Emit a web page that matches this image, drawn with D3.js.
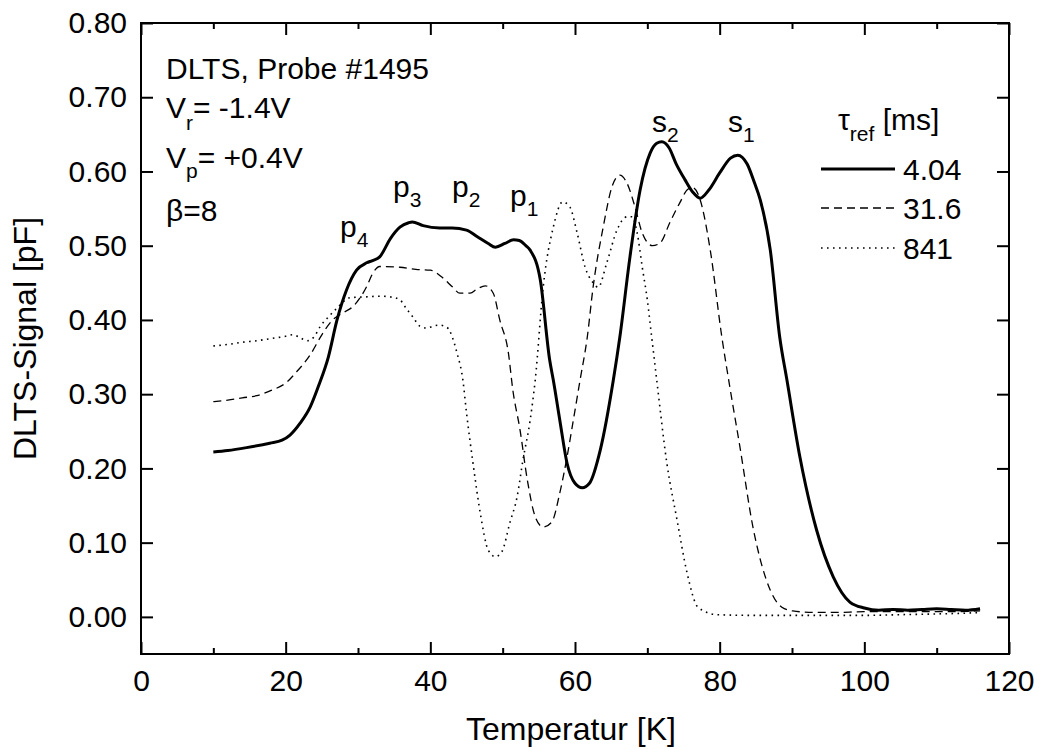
<!DOCTYPE html>
<html>
<head>
<meta charset="utf-8">
<script src="https://d3js.org/d3.v7.min.js"></script>
<style>
  body { margin: 0; background: #fff; }
  svg { font-family: "Liberation Sans", Arial, sans-serif; }
  .axis path { display: none; }
  .axis line { stroke: #000; stroke-width: 2; }
  .axis text { font-size: 30px; fill: #000; }
  .lbl { font-size: 30px; fill: #000; }
  .title { font-size: 32px; fill: #000; }
</style>
</head>
<body>
<script>
// temperature [K] / DLTS signal [pF] pairs
var tau404 = [[10,0.222],[12,0.224],[14.6,0.228],[17.8,0.234],[19.5,0.238],[20.6,0.245],[22,0.261],[23.4,0.283],[24.5,0.31],[25.9,0.35],[27.1,0.40],[28.4,0.44],[29.8,0.467],[31.2,0.477],[32,0.48],[33,0.485],[34.5,0.51],[35.8,0.525],[37,0.531],[37.5,0.532],[39,0.527],[41.3,0.524],[43,0.524],[45,0.521],[46.5,0.512],[48,0.503],[49,0.498],[50.3,0.503],[51.5,0.508],[52.3,0.507],[53.2,0.50],[53.8,0.494],[55.2,0.454],[56.5,0.346],[57,0.319],[57.9,0.265],[58.9,0.207],[60,0.18],[61,0.174],[62,0.18],[63.5,0.225],[65.3,0.319],[66.2,0.377],[67.6,0.485],[69,0.575],[70.4,0.625],[71.3,0.638],[72,0.640],[73,0.632],[74,0.61],[75.2,0.589],[76.3,0.572],[77.3,0.564],[78.5,0.575],[80,0.598],[81.5,0.618],[82.5,0.622],[83.8,0.61],[84.8,0.585],[85.6,0.562],[87,0.494],[88.3,0.377],[89.3,0.319],[91.1,0.215],[93.4,0.117],[95.7,0.054],[98,0.02],[100,0.012],[102,0.009],[104,0.010],[106,0.009],[108,0.010],[110,0.011],[112,0.010],[114,0.009],[116,0.011]];

var tau316 = [[10,0.29],[12,0.292],[14,0.295],[16,0.298],[18,0.305],[20,0.315],[21.5,0.33],[23.4,0.353],[25,0.38],[26.5,0.40],[28,0.41],[29.3,0.418],[30.3,0.43],[31.2,0.445],[32,0.462],[33,0.472],[35.8,0.471],[38,0.468],[40,0.467],[41.8,0.456],[43,0.445],[44.1,0.436],[45.5,0.436],[46.5,0.442],[47.6,0.446],[48.7,0.436],[49.6,0.40],[50.8,0.355],[51.4,0.306],[52.4,0.252],[53.4,0.185],[54.5,0.135],[55.6,0.121],[56.8,0.128],[57.9,0.167],[59,0.221],[59.7,0.261],[60.7,0.319],[61.7,0.377],[62.5,0.444],[63.9,0.525],[65.1,0.579],[66.2,0.595],[67.2,0.584],[68.3,0.552],[69.3,0.517],[70.7,0.50],[71.8,0.504],[73.1,0.531],[74.5,0.558],[75.6,0.576],[76.3,0.578],[77.3,0.562],[78.7,0.494],[80.3,0.377],[81.4,0.31],[82.8,0.229],[84.6,0.121],[87,0.036],[88.6,0.013],[90.1,0.008],[93,0.006],[96,0.006],[100,0.007],[104,0.007],[108,0.007],[112,0.007],[116,0.008]];

var tau841 = [[10,0.365],[12,0.367],[14,0.37],[16,0.372],[18,0.375],[20,0.378],[21,0.38],[22,0.376],[23,0.372],[24,0.378],[24.7,0.39],[26,0.405],[27,0.415],[28.9,0.43],[31,0.431],[33,0.432],[34.5,0.431],[35.8,0.427],[36.7,0.415],[37.6,0.404],[38.5,0.392],[39.5,0.389],[40.5,0.392],[41.3,0.393],[42.3,0.39],[43.7,0.355],[44.5,0.319],[45,0.275],[45.9,0.207],[46.9,0.14],[48,0.09],[49,0.081],[49.9,0.088],[51,0.127],[52,0.162],[52.8,0.211],[53.8,0.265],[54.5,0.319],[55.6,0.444],[57,0.525],[58.3,0.559],[59.3,0.552],[60.3,0.517],[61.4,0.471],[62.5,0.45],[63.2,0.444],[64.4,0.477],[65.8,0.521],[67.2,0.539],[67.9,0.539],[68.6,0.517],[69.3,0.471],[70,0.427],[70.6,0.377],[71.3,0.319],[72.7,0.207],[74.1,0.131],[75.5,0.059],[77,0.013],[79.6,0.003],[85,0.002],[90,0.002],[95,0.002],[100,0.002],[105,0.003],[110,0.004],[114,0.005],[116,0.006]];

var legendNames = ["4.04", "31.6", "841"];
var xTicks = [0, 20, 40, 60, 80, 100, 120];
var xMinor = [10, 30, 50, 70, 90, 110];
var yTicks = [0, 0.1, 0.2, 0.3, 0.4, 0.5, 0.6, 0.7, 0.8];

var width = 1040, height = 749;
var margin = {top: 23, right: 31, bottom: 95, left: 141};
var w = width - margin.left - margin.right,
    h = height - margin.top - margin.bottom;

var svg = d3.select("body").append("svg")
    .attr("width", width)
    .attr("height", height);

var g = svg.append("g")
    .attr("transform", "translate(" + margin.left + "," + margin.top + ")");

var x = d3.scaleLinear().domain([0, 120]).range([0, w]);
var y = d3.scaleLinear().domain([-0.05, 0.80]).range([h, 0]);

//axes, ticks pointing inward
g.append("g").attr("class", "axis")
    .attr("transform", "translate(0," + h + ")")
    .call(d3.axisBottom(x).tickValues(xTicks).tickSize(-12).tickPadding(16));
g.append("g").attr("class", "axis")
    .attr("transform", "translate(0," + h + ")")
    .call(d3.axisBottom(x).tickValues(xMinor).tickSize(-6).tickFormat(""));
g.append("g").attr("class", "axis")
    .call(d3.axisTop(x).tickValues(xTicks).tickSize(-12).tickFormat(""));
g.append("g").attr("class", "axis")
    .call(d3.axisTop(x).tickValues(xMinor).tickSize(-6).tickFormat(""));
g.append("g").attr("class", "axis")
    .call(d3.axisLeft(y).tickValues(yTicks).tickSize(-12).tickPadding(14).tickFormat(d3.format(".2f")));
g.append("g").attr("class", "axis")
    .attr("transform", "translate(" + w + ",0)")
    .call(d3.axisRight(y).tickValues(yTicks).tickSize(-12).tickFormat(""));

//frame
g.append("rect")
    .attr("width", w).attr("height", h)
    .attr("fill", "none").attr("stroke", "#000").attr("stroke-width", 2);

var line = d3.line()
    .x(function(d){ return x(d[0]); })
    .y(function(d){ return y(d[1]); })
    .curve(d3.curveMonotoneX);

var styles = [
    {data: tau404, sw: 3, dash: null},
    {data: tau316, sw: 1.3, dash: "8,5"},
    {data: tau841, sw: 1.6, dash: "1.6,4.4"}
];

g.selectAll(".curve")
    .data(styles)
    .enter()
    .append("path")
    .attr("class", "curve")
    .attr("d", function(d){ return line(d.data); })
    .attr("fill", "none")
    .attr("stroke", "#000")
    .attr("stroke-width", function(d){ return d.sw; })
    .attr("stroke-dasharray", function(d){ return d.dash; })
    .attr("stroke-linejoin", "round");

//axis titles
svg.append("text").attr("class", "title")
    .attr("x", 571).attr("y", 740)
    .attr("text-anchor", "middle")
    .text("Temperatur [K]");
svg.append("text").attr("class", "title")
    .attr("transform", "translate(36," + (margin.top + h / 2) + ") rotate(-90)")
    .attr("text-anchor", "middle")
    .text("DLTS-Signal [pF]");

//helper for text with subscript
function subText(px, py, main, sub, rest, dy){
    dy = dy || 10;
    var t = svg.append("text").attr("class", "lbl")
        .attr("x", px).attr("y", py);
    t.append("tspan").text(main);
    t.append("tspan").attr("dy", dy).style("font-size", "21px").text(sub);
    if (rest) t.append("tspan").attr("dy", -dy).text(rest);
    return t;
}

//sample info
svg.append("text").attr("class", "lbl").attr("x", 166).attr("y", 79).text("DLTS, Probe #1495");
subText(166, 118, "V", "r", "= -1.4V", 12);
subText(166, 168, "V", "p", "= +0.4V", 10);
svg.append("text").attr("class", "lbl").attr("x", 166).attr("y", 221).text("\u03b2=8");

//peak labels
subText(340, 237, "p", "4");
subText(393, 197, "p", "3");
subText(452, 197, "p", "2");
subText(510, 206, "p", "1");
subText(652, 132, "s", "2");
subText(728, 132, "s", "1");

//legend
subText(838, 130, "\u03c4", "ref", " [ms]", 11);
var legY = [169, 208, 248];
styles.forEach(function(s, i){
    svg.append("line")
        .attr("x1", 821).attr("x2", 895)
        .attr("y1", legY[i]).attr("y2", legY[i])
        .attr("stroke", "#000")
        .attr("stroke-width", s.sw)
        .attr("stroke-dasharray", s.dash);
    svg.append("text").attr("class", "lbl")
        .attr("x", 903).attr("y", legY[i] + 11)
        .text(legendNames[i]);
});
</script>
</body>
</html>
